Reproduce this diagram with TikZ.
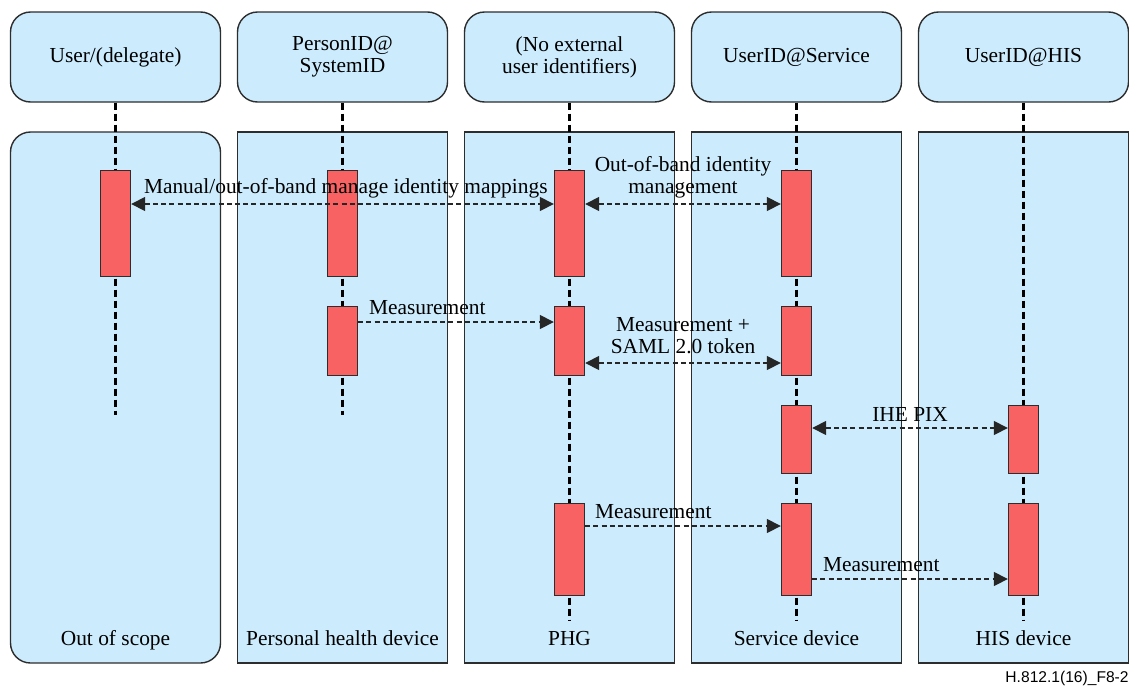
\documentclass[tikz,border=0pt]{standalone}
\usepackage{fontspec}
\setmainfont{Liberation Serif}
\newfontfamily\tagfont{Liberation Sans}
\usetikzlibrary{arrows.meta}

\definecolor{paneblue}{RGB}{204,236,253}
\definecolor{actred}{RGB}{248,98,98}
\definecolor{edgegray}{RGB}{45,45,45}

\begin{document}
\begin{tikzpicture}[x=0.5pt,y=-0.5pt,
    font=\fontsize{10.7pt}{11pt}\selectfont,
    head/.style={draw=edgegray,fill=paneblue,line width=0.7pt,rounded corners=10pt,
      minimum width=105pt,minimum height=45pt,align=center,inner sep=0pt},
    panel/.style={draw=edgegray,fill=paneblue,line width=0.7pt,
      minimum width=105pt,minimum height=265.5pt,inner sep=0pt},
    act/.style={draw=edgegray,fill=actred,line width=0.7pt,anchor=north,
      minimum width=15pt,inner sep=0pt},
    life/.style={line width=1.8pt,dash pattern=on 3.5pt off 2pt},
    msg/.style={draw=black!85,line width=0.8pt,dash pattern=on 2.5pt off 1.6pt,
      >={Triangle[length=7pt,width=7pt]}},
    lbl/.style={inner sep=0pt,text depth=0pt,anchor=south,yshift=4pt}]

  \useasboundingbox (0,0) rectangle (1129,686);

  % panels
  \node[panel,rounded corners=10pt] (pn1) at (115.5,397.5) {};
  \node[panel] (pn2) at (342.5,397.5) {};
  \node[panel] (pn3) at (569.5,397.5) {};
  \node[panel] (pn4) at (796.5,397.5) {};
  \node[panel] (pn5) at (1023.5,397.5) {};

  \node[anchor=base] (lb1) at (115.5,645) {Out of scope};
  \node[anchor=base] (lb2) at (342.5,645) {Personal health device};
  \node[anchor=base] (lb3) at (569.5,645) {PHG};
  \node[anchor=base] (lb4) at (796.5,645) {Service device};
  \node[anchor=base] (lb5) at (1023.5,645) {HIS device};

  % headers
  \node[head] (hd1) at (115.5,57) {User/(delegate)};
  \node[head] (hd2) at (342.5,57) {PersonID@\\SystemID};
  \node[head] (hd3) at (569.5,57) {(No external\\user identifiers)};
  \node[head] (hd4) at (796.5,57) {UserID@Service};
  \node[head] (hd5) at (1023.5,57) {UserID@HIS};

  % lifelines
  \coordinate (end1) at (115.5,415);
  \coordinate (end2) at (342.5,415);
  \coordinate (end3) at (569.5,620);
  \coordinate (end4) at (796.5,620);
  \coordinate (end5) at (1023.5,620);
  \foreach \i in {1,...,5}
    \draw[life] (hd\i.south) -- (end\i);

  % activations
  \node[act,minimum height=53pt] (u1) at (115.5,170) {};
  \node[act,minimum height=53pt] (p1) at (342.5,170) {};
  \node[act,minimum height=34.5pt] (p2) at (342.5,306) {};
  \node[act,minimum height=53pt] (g1) at (569.5,170) {};
  \node[act,minimum height=34.5pt] (g2) at (569.5,306) {};
  \node[act,minimum height=46pt] (g3) at (569.5,503) {};
  \node[act,minimum height=53pt] (s1) at (796.5,170) {};
  \node[act,minimum height=34.5pt] (s2) at (796.5,306) {};
  \node[act,minimum height=34pt] (s3) at (796.5,405) {};
  \node[act,minimum height=46pt] (s4) at (796.5,503) {};
  \node[act,minimum height=34pt] (h1) at (1023.5,405) {};
  \node[act,minimum height=46pt] (h2) at (1023.5,503) {};

  % messages
  \draw[msg,<->] (u1.east |- 0,204) -- (g1.west |- 0,204)
    node[lbl,pos=0,anchor=south west,xshift=6pt,yshift=1pt] (m1)
    {Manual/out-of-band manage identity mappings};
  \draw[msg,<->] (g1.east |- 0,204) -- (s1.west |- 0,204)
    node[lbl,midway,align=center,yshift=1pt] (m2) {Out-of-band identity\\management};
  \draw[msg,->] (p2.east |- 0,322) -- (g2.west |- 0,322)
    node[lbl,pos=0,anchor=south west,xshift=5pt,yshift=-0.5pt] (m3) {Measurement};
  \draw[msg,<->] (g2.east |- 0,363) -- (s2.west |- 0,363)
    node[lbl,midway,align=center,yshift=0.5pt] (m4) {Measurement +\\SAML 2.0 token};
  \draw[msg,<->] (s3.east |- 0,428) -- (h1.west |- 0,428)
    node[lbl,midway,yshift=-1pt] (m5) {IHE PIX};
  \draw[msg,->] (g3.east |- 0,526) -- (s4.west |- 0,526)
    node[lbl,pos=0,anchor=south west,xshift=4.5pt,yshift=-0.5pt] (m6) {Measurement};
  \draw[msg,->] (s4.east |- 0,579) -- (h2.west |- 0,579)
    node[lbl,pos=0,anchor=south west,xshift=5pt,yshift=-0.5pt] (m7) {Measurement};

  \node[anchor=base east,inner sep=0pt,font=\tagfont\fontsize{7.8pt}{9pt}\selectfont] (tag)
    at (1129,682) {H.812.1(16)\_F8-2};
\end{tikzpicture}
\end{document}
